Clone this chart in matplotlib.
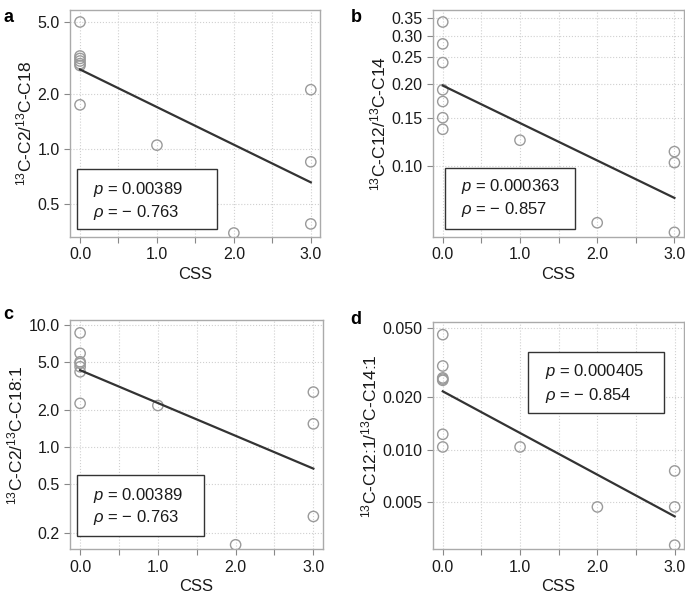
import numpy as np
import matplotlib
matplotlib.use('Agg')
import matplotlib.pyplot as plt
from matplotlib.patches import Rectangle
from matplotlib.ticker import FixedLocator, FixedFormatter, NullLocator

plt.rcParams['font.family'] = ['Liberation Sans', 'DejaVu Sans']
plt.rcParams['mathtext.fontset'] = 'custom'
plt.rcParams['mathtext.rm'] = 'Liberation Sans'
plt.rcParams['mathtext.it'] = 'Liberation Sans:italic'

# Data
css = [0, 0, 0, 0, 0, 0, 0, 1, 2, 3, 3, 3]

ratio_a = [5.0, 3.25, 3.15, 3.05, 2.95, 2.88, 1.75, 1.05, 0.345, 2.12, 0.85, 0.387]
ratio_b = [0.337, 0.280, 0.239, 0.190, 0.172, 0.150, 0.136, 0.124, 0.0617, 0.1126, 0.1026, 0.0569]
ratio_c = [8.6, 5.85, 4.99, 4.84, 4.54, 4.13, 2.28, 2.19, 0.159, 2.82, 1.55, 0.271]
ratio_d = [0.0457, 0.0302, 0.0258, 0.0254, 0.0250, 0.01225, 0.01036, 0.01036, 0.00469, 0.00755, 0.00469, 0.00283]

labels = [r'$^{13}$C-C2/$^{13}$C-C18', r'$^{13}$C-C12/$^{13}$C-C14',
          r'$^{13}$C-C2/$^{13}$C-C18:1', r'$^{13}$C-C12:1/$^{13}$C-C14:1']
p_vals = ['0.00389', '0.000363', '0.00389', '0.000405']
rho_vals = ['0.763', '0.857', '0.763', '0.854']
yticks = [[0.5, 1.0, 2.0, 5.0],
          [0.10, 0.15, 0.20, 0.25, 0.30, 0.35],
          [0.2, 0.5, 1.0, 2.0, 5.0, 10.0],
          [0.005, 0.010, 0.020, 0.050]]
ytick_fmt = ['%.1f', '%.2f', '%.1f', '%.3f']
ylims = [(0.328, 5.82), (0.0547, 0.373), (0.146, 10.9), (0.00268, 0.054)]
letters = ['a', 'b', 'c', 'd']

# layout
axes_pos = [[0.1022, 0.6017, 0.365, 0.3815],
            [0.6317, 0.6017, 0.3664, 0.3815],
            [0.1022, 0.0768, 0.3689, 0.3849],
            [0.6317, 0.0768, 0.3668, 0.382]]
box_pos = [(0.027, 0.034, 0.560, 0.264),
           (0.048, 0.037, 0.520, 0.268),
           (0.027, 0.057, 0.503, 0.266),
           (0.379, 0.600, 0.540, 0.268)]
text_pos = [(0.091, 0.210, 0.110), (0.113, 0.221, 0.121),
            (0.090, 0.236, 0.137), (0.447, 0.783, 0.677)]
letter_pos = [(0.005, 0.985), (0.512, 0.985), (0.005, 0.485), (0.512, 0.478)]

fig = plt.figure(figsize=(6.85, 5.95), dpi=100)
grey = '#9a9a9a'

for i, yvals in enumerate([ratio_a, ratio_b, ratio_c, ratio_d]):
    ax = fig.add_axes(axes_pos[i])
    x = np.array(css, dtype=float)
    y = np.array(yvals)
    ax.scatter(x, y, s=55, facecolors='none', edgecolors=grey, linewidths=1.0, zorder=3)
    # log-linear fit
    slope, icpt = np.polyfit(x, np.log10(y), 1)
    xf = np.array([0.0, 3.0])
    ax.plot(xf, 10 ** (icpt + slope * xf), color='#333333', lw=1.6, zorder=4)

    ax.set_yscale('log')
    ax.set_ylim(*ylims[i])
    ax.set_xlim(-0.13, 3.12)
    ax.yaxis.set_major_locator(FixedLocator(yticks[i]))
    ax.yaxis.set_major_formatter(FixedFormatter([ytick_fmt[i] % t for t in yticks[i]]))
    ax.yaxis.set_minor_locator(NullLocator())
    ax.set_xticks([0, 0.5, 1, 1.5, 2, 2.5, 3])
    ax.set_xticklabels(['0.0', '', '1.0', '', '2.0', '', '3.0'])
    ax.grid(True, color='#d0d0d0', linestyle=':', linewidth=0.8)
    ax.set_axisbelow(True)
    for s in ax.spines.values():
        s.set_color('#aaaaaa')
        s.set_linewidth(1.0)
    ax.tick_params(colors='#888888', labelcolor='#1a1a1a', labelsize=11.5, length=4, width=0.8)
    ax.set_xlabel('CSS', fontsize=12, color='#1a1a1a', labelpad=3)
    ax.set_ylabel(labels[i], fontsize=12.5, color='#1a1a1a', labelpad=2)

    bx, by, bw, bh = box_pos[i]
    ax.add_patch(Rectangle((bx, by), bw, bh, transform=ax.transAxes, facecolor='white',
                           edgecolor='#333333', lw=1.0, zorder=5))
    tx, ty1, ty2 = text_pos[i]
    ax.text(tx, ty1, r'$p$ = ' + p_vals[i], transform=ax.transAxes, fontsize=12,
            va='center', ha='left', zorder=6, color='#1a1a1a')
    ax.text(tx, ty2, r'$\rho$ = − ' + rho_vals[i], transform=ax.transAxes, fontsize=12,
            va='center', ha='left', zorder=6, color='#1a1a1a')

    fig.text(letter_pos[i][0], letter_pos[i][1], letters[i], fontsize=13, fontweight='bold',
             va='top', ha='left')

fig.savefig('out.png', dpi=100)
